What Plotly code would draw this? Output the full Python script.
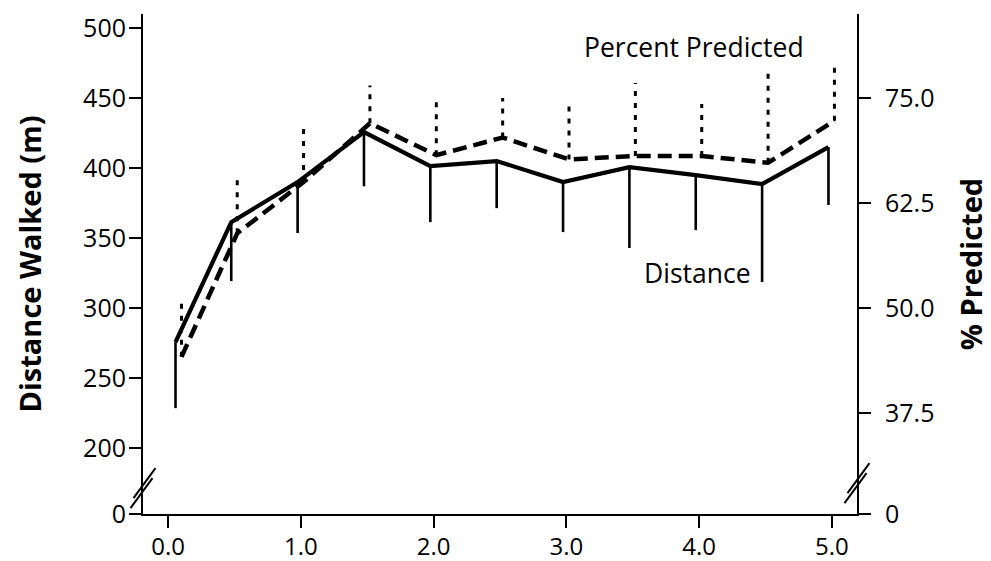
import plotly.graph_objects as go

# ---- data ----
times = [0.08, 0.5, 1.0, 1.5, 2.0, 2.5, 3.0, 3.5, 4.0, 4.5, 5.0]
distance_mean = [275.7, 361.4, 390.0, 425.7, 401.4, 405.0, 390.0, 400.7, 395.0, 388.6, 415.0]
distance_lower = [228.6, 319.3, 353.6, 387.0, 361.4, 371.4, 354.3, 342.9, 355.7, 318.6, 373.6]
pct_mean = [44.2, 58.9, 65.0, 72.0, 68.2, 70.3, 67.7, 68.1, 68.1, 67.3, 72.3]
pct_upper = [51.2, 65.8, 72.1, 76.5, 74.8, 75.0, 74.3, 76.8, 74.3, 78.0, 78.9]

x_ticks = [0, 1, 2, 3, 4, 5]
left_ticks = [200, 250, 300, 350, 400, 450, 500]
right_ticks = [37.5, 50.0, 62.5, 75.0]

# ---- axis-break layout constants ----
BREAK_Y = 153.0          # where "0" sits on the broken left axis
LEFT_TOP = 510.0
RATIO = 6.0              # metres per percent point
DIST_SHIFT = -0.025
PCT_SHIFT = 0.02

xd = [t + DIST_SHIFT for t in times]
xp = [t + PCT_SHIFT for t in times]

def segments(xs, y0s, y1s):
    X, Y = [], []
    for x, a, b in zip(xs, y0s, y1s):
        X += [x, x, None]
        Y += [a, b, None]
    return X, Y

FONT = "Open Sans"
fig = go.Figure()

# distance error bars (solid, downward)
ex, ey = segments(xd, distance_mean, distance_lower)
fig.add_trace(go.Scatter(x=ex, y=ey, mode="lines", line=dict(color="black", width=2.6),
                         showlegend=False, hoverinfo="skip", yaxis="y"))
# percent error bars (dotted, upward)
px_, py_ = segments(xp, pct_mean, pct_upper)
fig.add_trace(go.Scatter(x=px_, y=py_, mode="lines",
                         line=dict(color="black", width=3, dash="5px,7px"),
                         showlegend=False, hoverinfo="skip", yaxis="y2"))
# percent predicted line (dashed)
fig.add_trace(go.Scatter(x=xp, y=pct_mean, mode="lines", name="Percent Predicted",
                         line=dict(color="black", width=4.5, dash="14px,7px"),
                         showlegend=False, yaxis="y2"))
# distance line (solid)
fig.add_trace(go.Scatter(x=xd, y=distance_mean, mode="lines", name="Distance",
                         line=dict(color="black", width=4.2),
                         showlegend=False, yaxis="y"))

axis_common = dict(showline=True, linecolor="black", linewidth=2, ticks="outside",
                   ticklen=12, tickwidth=2, tickcolor="black", showgrid=False,
                   zeroline=False, automargin=False)

fig.update_layout(
    width=991, height=561,
    margin=dict(l=143, r=134, t=14, b=47, autoexpand=False),
    paper_bgcolor="white", plot_bgcolor="white",
    font=dict(family=FONT, color="black", size=25),
    xaxis=dict(range=[-0.19, 5.19], tickvals=x_ticks, ticktext=[f"{v:.1f}" for v in x_ticks],
               ticklabelstandoff=-2, tickfont=dict(size=24), **axis_common),
    yaxis=dict(range=[BREAK_Y, LEFT_TOP], tickvals=[BREAK_Y] + left_ticks,
               ticktext=["0"] + [str(v) for v in left_ticks],
               ticklabelstandoff=-2, tickfont=dict(size=25),
               title=dict(text="<b>Distance Walked (m)</b>", font=dict(size=29), standoff=33),
               **axis_common),
    yaxis2=dict(range=[BREAK_Y / RATIO, LEFT_TOP / RATIO], overlaying="y", side="right",
                tickvals=[BREAK_Y / RATIO] + right_ticks,
                ticktext=["0"] + [f"{v:.1f}" for v in right_ticks],
                ticklabelstandoff=9, tickfont=dict(size=25),
                title=dict(text="<b>% Predicted</b>", font=dict(size=29), standoff=28),
                **axis_common),
    showlegend=False,
)

# axis break marks "//"
for xa, yc in [(0, 171.5), (1, 175.0)]:
    for off in (-5, 5):
        fig.add_shape(type="line", xref="paper", yref="y", xanchor=xa, yanchor=yc,
                      xsizemode="pixel", ysizemode="pixel",
                      x0=-11 + off * 0.3, x1=11 + off * 0.3, y0=-15 + off, y1=15 + off,
                      line=dict(color="black", width=2))

# series labels
fig.add_annotation(x=3.96, y=81.07, xref="x", yref="y2", text="Percent Predicted",
                   showarrow=False, font=dict(size=26.5))
fig.add_annotation(x=3.985, y=325, xref="x", yref="y", text="Distance",
                   showarrow=False, font=dict(size=26.5))

fig.write_html("out.html")
